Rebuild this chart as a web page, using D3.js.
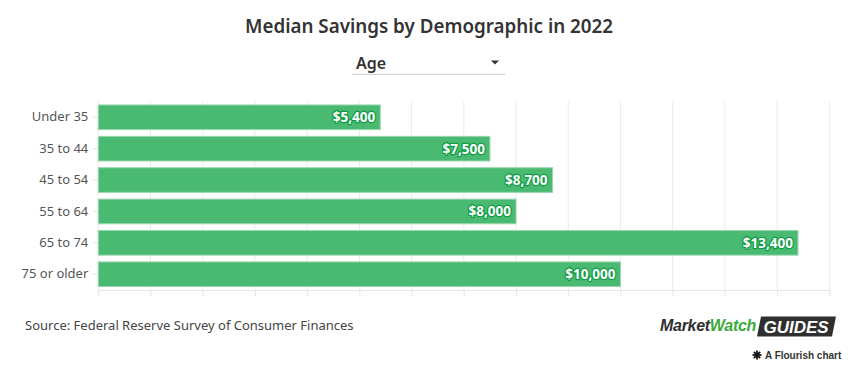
<!DOCTYPE html>
<html>
<head>
<meta charset="utf-8">
<script src="https://cdn.jsdelivr.net/npm/d3@7"></script>
<style>
  html, body { margin: 0; padding: 0; background: #fff; }
  svg { display: block; }
</style>
</head>
<body>
<svg id="chart" width="865" height="378"></svg>
<script>
const categories = ["Under 35", "35 to 44", "45 to 54", "55 to 64", "65 to 74", "75 or older"];
const values = [5400, 7500, 8700, 8000, 13400, 10000];
const xTicks = d3.range(0, 15000, 1000);
const title = "Median Savings by Demographic in 2022";
const dropdownLabel = "Age";
const source = "Source: Federal Reserve Survey of Consumer Finances";

const svg = d3.select("#chart");
const W = 865, H = 378;
const margin = { left: 98.3, right: 865 - 829.3, top: 101.5, bottom: 378 - 290 };

const x = d3.scaleLinear().domain([0, 14000]).range([margin.left, W - margin.right]);
const y = d3.scaleBand().domain(categories).range([margin.top, H - margin.bottom]).paddingInner(0.215).paddingOuter(0.11);

const font = "'Noto Sans', 'Open Sans', sans-serif";

// Title
svg.append("text").attr("x", 429).attr("y", 32.5).attr("text-anchor", "middle")
  .attr("font-family", font).attr("font-weight", 600).attr("font-size", 18.8)
  .attr("fill", "#333").text(title);

// Dropdown
svg.append("text").attr("x", 356).attr("y", 69).attr("font-family", font)
  .attr("font-weight", 600).attr("font-size", 16).attr("fill", "#333").text(dropdownLabel);
svg.append("path").attr("d", "M491,60.5 L499,60.5 L495,64.5 Z").attr("fill", "#333");
svg.append("line").attr("x1", 352).attr("x2", 505).attr("y1", 74.3).attr("y2", 74.3)
  .attr("stroke", "#ccc").attr("stroke-width", 1);

// Gridlines
const grid = svg.append("g");
grid.selectAll("line").data(xTicks).join("line")
  .attr("x1", d => x(d)).attr("x2", d => x(d))
  .attr("y1", margin.top).attr("y2", H - margin.bottom)
  .attr("stroke", "#ebebeb").attr("stroke-width", 1);

// X axis (no labels)
const xAxis = svg.append("g").attr("transform", `translate(0,${H - margin.bottom})`)
  .call(d3.axisBottom(x).tickValues(xTicks).tickSize(6).tickFormat(""));
xAxis.select(".domain").attr("stroke", "#e6e6e6");
xAxis.selectAll(".tick line").attr("stroke", "#e6e6e6");

// Y axis
const yAxis = svg.append("g").attr("transform", `translate(${margin.left},0)`)
  .call(d3.axisLeft(y).tickSize(6).tickPadding(4));
yAxis.select(".domain").remove();
yAxis.selectAll(".tick line").attr("stroke", "#e6e6e6");
yAxis.selectAll(".tick text").attr("font-family", font).attr("font-size", 13)
  .attr("fill", "#555");

// Bars
svg.append("g").selectAll("rect").data(values).join("rect")
  .attr("x", x(0)).attr("y", (d, i) => y(categories[i]))
  .attr("width", d => x(d) - x(0)).attr("height", y.bandwidth())
  .attr("fill", "#4aba72").attr("stroke", "#9ad6ae").attr("stroke-width", 1);

// Value labels
const fmt = d => "$" + d3.format(",")(d);
svg.append("g").selectAll("text").data(values).join("text")
  .attr("x", d => x(d) - 5).attr("y", (d, i) => y(categories[i]) + y.bandwidth() / 2)
  .attr("dy", "0.36em").attr("text-anchor", "end")
  .attr("font-family", "'Open Sans', sans-serif").attr("font-weight", 700).attr("font-size", 13.5)
  .attr("fill", "#fff").attr("stroke", "#0f9d45").attr("stroke-width", 2.5)
  .attr("stroke-linejoin", "round").attr("paint-order", "stroke").text(fmt);

// Source
svg.append("text").attr("x", 25).attr("y", 330).attr("font-family", font)
  .attr("font-size", 13).attr("fill", "#444").text(source);

// Logo
const logo = svg.append("g");
const lt = logo.append("text").attr("x", 660).attr("y", 330.5)
  .attr("font-family", "'Liberation Sans', Arial, sans-serif").attr("font-weight", 700)
  .attr("font-style", "italic").attr("font-size", 16).attr("letter-spacing", -0.3);
lt.append("tspan").attr("fill", "#2f2f2f").text("Market");
lt.append("tspan").attr("fill", "#3aaa3a").text("Watch");
logo.append("path").attr("d", "M761,316.5 L836,316.5 L832,336.5 L757,336.5 Z").attr("fill", "#2f2f2f");
logo.append("text").attr("x", 796).attr("y", 333).attr("text-anchor", "middle")
  .attr("font-family", "'Liberation Sans', Arial, sans-serif").attr("font-weight", 700)
  .attr("font-style", "italic").attr("font-size", 17).attr("fill", "#fff").text("GUIDES");

// Flourish credit
const fl = svg.append("g").attr("transform", "translate(757,355)");
[0, 45, 90, 135].forEach(a => {
  fl.append("line").attr("x1", -4.5).attr("x2", 4.5).attr("y1", 0).attr("y2", 0)
    .attr("stroke", "#111").attr("stroke-width", 1.8).attr("transform", `rotate(${a})`);
});
svg.append("text").attr("x", 765).attr("y", 359).attr("font-family", "'Liberation Sans', Arial, sans-serif")
  .attr("font-weight", 700).attr("font-size", 10).attr("fill", "#333").text("A Flourish chart");
</script>
</body>
</html>
